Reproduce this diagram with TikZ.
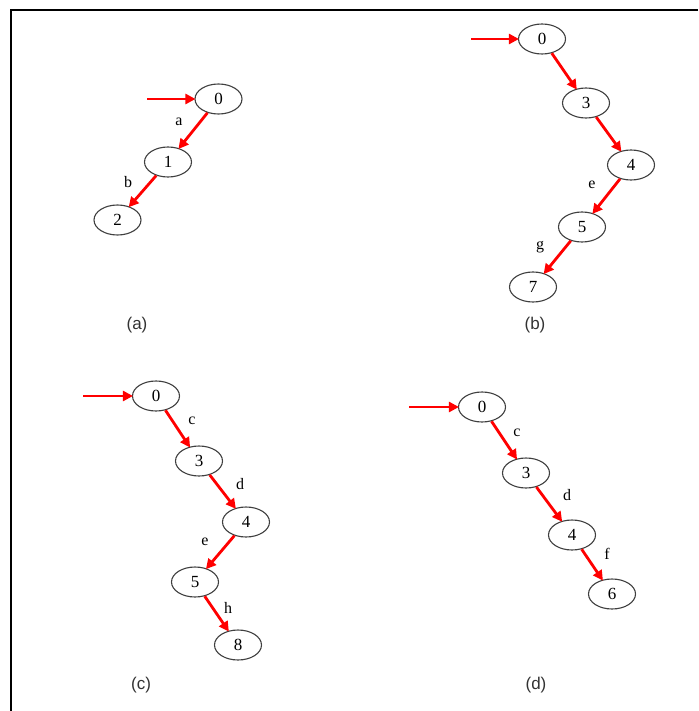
\documentclass[tikz,border=0pt]{standalone}
\usepackage{fontspec}
\setmainfont{Liberation Serif}
\newfontfamily\capfont{Liberation Sans}
\usetikzlibrary{shapes.geometric,arrows.meta}
\tikzset{
  st/.style={ellipse, draw=black!75, line width=1.1pt, minimum width=47pt, minimum height=30pt, inner sep=0pt, font=\fontsize{17}{17}\selectfont},
  tr/.style={draw=red, line width=2.8pt, -{Triangle[length=10pt,width=10pt]}, shorten >=-1pt},
  lbl/.style={inner sep=0pt, font=\fontsize{16}{16}\selectfont},
  capstyle/.style={inner sep=0pt, font=\capfont\fontsize{17}{17}\selectfont, text=black!80},
  framestyle/.style={line width=2pt, draw=black}
}
\begin{document}
\begin{tikzpicture}[x=1pt,y=-1pt]
\useasboundingbox (0,0) rectangle (698,711);
\fill[white] (0,0) rectangle (698,711);
\coordinate (fr1) at (698,10);
\coordinate (fr2) at (11,10);
\coordinate (fr3) at (11,711);
\draw[framestyle] (fr1) -- (fr2) -- (fr3);

% (a)
\node[st] (a0) at (218.5,99) {0};
\node[st] (a1) at (168,162) {1};
\node[st] (a2) at (117.5,220) {2};
\coordinate (ain) at (147,99);
\draw[tr] (ain) -- (a0);
\draw[tr] (a0) -- (a1);
\draw[tr] (a1) -- (a2);
\node[lbl] (la) at (179,122) {a};
\node[lbl] (lb) at (128,182) {b};
\node[capstyle] (ca) at (137,325) {(a)};

% (b)
\node[st] (b0) at (542,39) {0};
\node[st] (b3) at (586,103) {3};
\node[st] (b4) at (631,165) {4};
\node[st] (b5) at (582,227) {5};
\node[st] (b7) at (533,287) {7};
\coordinate (bin) at (471,39);
\draw[tr] (bin) -- (b0);
\draw[tr] (b0) -- (b3);
\draw[tr] (b3) -- (b4);
\draw[tr] (b4) -- (b5);
\draw[tr] (b5) -- (b7);
\node[lbl] (le1) at (592,185) {e};
\node[lbl] (lg) at (540,247) {g};
\node[capstyle] (cb) at (535,325) {(b)};

% (c)
\node[st] (c0) at (156,396) {0};
\node[st] (c3) at (199,461) {3};
\node[st] (c4) at (246,522) {4};
\node[st] (c5) at (195,582) {5};
\node[st] (c8) at (238,645) {8};
\coordinate (cin) at (83,396);
\draw[tr] (cin) -- (c0);
\draw[tr] (c0) -- (c3);
\draw[tr] (c3) -- (c4);
\draw[tr] (c4) -- (c5);
\draw[tr] (c5) -- (c8);
\node[lbl] (lc1) at (192,421) {c};
\node[lbl] (ld1) at (240,484) {d};
\node[lbl] (le2) at (205,542) {e};
\node[lbl] (lh) at (228,608) {h};
\node[capstyle] (cc) at (141,685) {(c)};

% (d)
\node[st] (d0) at (482,407) {0};
\node[st] (d3) at (526,473) {3};
\node[st] (d4) at (572,535) {4};
\node[st] (d6) at (612,594) {6};
\coordinate (din) at (409,407);
\draw[tr] (din) -- (d0);
\draw[tr] (d0) -- (d3);
\draw[tr] (d3) -- (d4);
\draw[tr] (d4) -- (d6);
\node[lbl] (lc2) at (517,433) {c};
\node[lbl] (ld2) at (567,495) {d};
\node[lbl] (lf) at (607,554) {f};
\node[capstyle] (cd) at (536,685) {(d)};
\end{tikzpicture}
\end{document}
